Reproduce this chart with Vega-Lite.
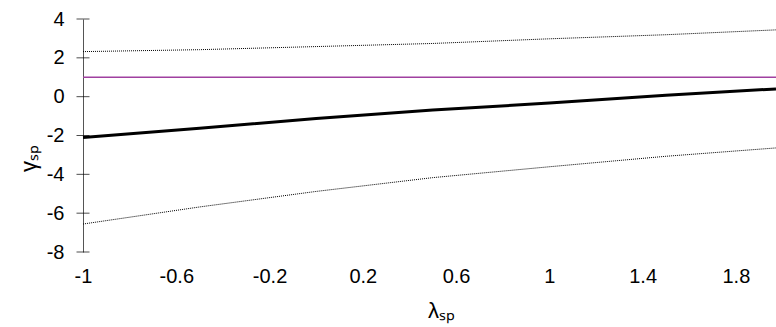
{
  "$schema": "https://vega.github.io/schema/vega-lite/v6.json",
  "autosize": {"type": "none"},
  "width": 693,
  "height": 233,
  "padding": {"left": 83, "top": 19, "right": 0, "bottom": 75},
  "background": "white",
  "config": {"view": {"stroke": null}, "font": "Liberation Sans"},
  "datasets": {
    "curves": [
      {"x": -1, "y": 2.32, "s": "upper"},
      {"x": -0.5, "y": 2.42, "s": "upper"},
      {"x": 0, "y": 2.58, "s": "upper"},
      {"x": 0.5, "y": 2.74, "s": "upper"},
      {"x": 1, "y": 2.98, "s": "upper"},
      {"x": 1.5, "y": 3.19, "s": "upper"},
      {"x": 1.972, "y": 3.44, "s": "upper"},
      {"x": -1, "y": -2.1, "s": "mid"},
      {"x": -0.5, "y": -1.63, "s": "mid"},
      {"x": 0, "y": -1.13, "s": "mid"},
      {"x": 0.5, "y": -0.69, "s": "mid"},
      {"x": 1, "y": -0.33, "s": "mid"},
      {"x": 1.5, "y": 0.07, "s": "mid"},
      {"x": 1.972, "y": 0.4, "s": "mid"},
      {"x": -1, "y": -6.56, "s": "lower"},
      {"x": -0.5, "y": -5.68, "s": "lower"},
      {"x": 0, "y": -4.88, "s": "lower"},
      {"x": 0.5, "y": -4.17, "s": "lower"},
      {"x": 1, "y": -3.61, "s": "lower"},
      {"x": 1.5, "y": -3.07, "s": "lower"},
      {"x": 1.972, "y": -2.64, "s": "lower"},
      {"x": -1, "y": 1, "s": "ref"},
      {"x": 1.972, "y": 1, "s": "ref"}
    ],
    "yticks": [
      {"x": -1, "y": -8}, {"x": -1, "y": -6}, {"x": -1, "y": -4}, {"x": -1, "y": -2},
      {"x": -1, "y": 0}, {"x": -1, "y": 2}, {"x": -1, "y": 4}
    ]
  },
  "encoding": {
    "x": {
      "field": "x", "type": "quantitative",
      "scale": {"domain": [-1, 1.972], "nice": false, "zero": false},
      "axis": {
        "values": [-1, -0.6, -0.2, 0.2, 0.6, 1, 1.4, 1.8],
        "labelExpr": "replace(format(datum.value, '~g'), '\u2212', '-')",
        "labelOverlap": false, "labelBound": false, "labelFlush": false,
        "domain": false, "ticks": false, "grid": false,
        "labelFontSize": 20, "labelColor": "black", "labelPadding": 14,
        "labelFont": "Liberation Sans",
        "title": "λₛₚ", "titleFontSize": 22, "titleFontWeight": "normal",
        "titleColor": "black", "titleFont": "Liberation Sans",
        "titleX": 358, "titleY": 65, "titleBaseline": "alphabetic", "titleAnchor": null
      }
    },
    "y": {
      "field": "y", "type": "quantitative",
      "scale": {"domain": [-8, 4], "nice": false, "zero": false},
      "axis": {
        "values": [-8, -6, -4, -2, 0, 2, 4],
        "labelExpr": "replace(format(datum.value, '~g'), '\u2212', '-')",
        "labelOverlap": false, "labelBound": false, "labelFlush": false,
        "domain": true, "domainColor": "#555555", "domainWidth": 1,
        "ticks": false, "grid": false,
        "labelFontSize": 20, "labelColor": "black", "labelPadding": 19,
        "labelFont": "Liberation Sans", "labelBaseline": "middle",
        "title": "γₛₚ", "titleFontSize": 22, "titleFontWeight": "normal",
        "titleColor": "black", "titleFont": "Liberation Sans",
        "titleX": -55, "titleY": 139, "titleAngle": 270, "titleBaseline": "middle", "titleAnchor": null
      }
    }
  },
  "layer": [
    {
      "data": {"name": "curves"},
      "transform": [{"filter": "datum.s === 'upper' || datum.s === 'lower'"}],
      "mark": {"type": "line", "color": "black", "strokeWidth": 1, "strokeDash": [1, 1]},
      "encoding": {"detail": {"field": "s"}}
    },
    {
      "data": {"name": "curves"},
      "transform": [{"filter": "datum.s === 'mid'"}],
      "mark": {"type": "line", "color": "black", "strokeWidth": 3}
    },
    {
      "data": {"name": "curves"},
      "transform": [{"filter": "datum.s === 'ref'"}],
      "mark": {"type": "line", "color": "#a040a0", "strokeWidth": 1.3}
    },
    {
      "data": {"name": "yticks"},
      "mark": {"type": "tick", "orient": "horizontal", "color": "black", "size": 13, "thickness": 1}
    }
  ]
}
